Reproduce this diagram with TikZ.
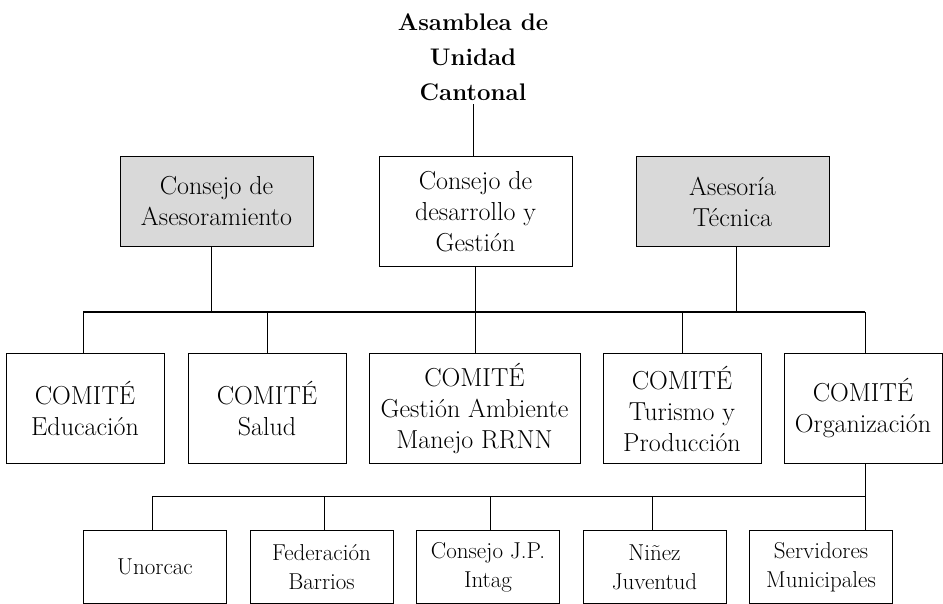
\documentclass[tikz,border=0pt]{standalone}
\usepackage{tikz}
\usetikzlibrary{positioning}
\definecolor{boxgray}{RGB}{217,217,217}

\begin{document}
\begin{tikzpicture}[x=1pt,y=-1pt,line width=1pt,
  box/.style={draw, align=center, inner sep=2pt, anchor=north,
    font=\fontsize{26}{31}\selectfont},
  topbox/.style={box, minimum width=193pt, minimum height=90pt},
  comite/.style={box, minimum width=158pt, minimum height=110pt},
  grupo/.style={box, minimum width=143pt, minimum height=73pt,
    font=\fontsize{23}{29}\selectfont}]
  \useasboundingbox (0,0) rectangle (943,604);

  % cabeza
  \node[align=center, inner sep=0pt, font=\bfseries\fontsize{24}{35}\selectfont]
    (asamblea) at (473,57) {Asamblea de\\Unidad\\Cantonal};

  % consejos
  \node[topbox, fill=boxgray] (asesoramiento) at (216.5,156) {Consejo de\\Asesoramiento};
  \node[topbox, minimum height=110pt] (desarrollo) at (475.5,156) {Consejo de\\desarrollo y\\Gesti\'on};
  \node[topbox, fill=boxgray] (tecnica) at (732.5,156) {Asesor\'ia\\T\'ecnica};

  % comites
  \node[comite] (educacion) at (85,353) {COMIT\'E\\Educaci\'on};
  \node[comite] (salud) at (267,353) {COMIT\'E\\Salud};
  \node[comite, minimum width=211pt] (ambiente) at (474.5,353)
    {COMIT\'E\\Gesti\'on Ambiente\\Manejo RRNN};
  \node[comite] (turismo) at (682,353) {COMIT\'E\\Turismo y\\Producci\'on};
  \node[comite] (organizacion) at (863,353) {COMIT\'E\\Organizaci\'on};

  % organizaciones de base
  \node[grupo] (unorcac) at (155,530) {Unorcac};
  \node[grupo] (federacion) at (321.5,530) {Federaci\'on\\Barrios};
  \node[grupo] (jp) at (488,530) {Consejo J.P.\\Intag};
  \node[grupo] (ninez) at (654.5,530) {Ni\~nez\\Juventud};
  \node[grupo] (servidores) at (821,530) {Servidores\\Municipales};

  \coordinate (busA) at (0,312);
  \coordinate (busB) at (0,496);
  \coordinate (dropE) at (83,0);
  \coordinate (dropO) at (865,0);

  \draw ([yshift=-3pt]asamblea.south) -- (asamblea.south |- desarrollo.north);
  \draw (desarrollo.south) -- (desarrollo.south |- ambiente.north);
  \draw ([xshift=-5pt]asesoramiento.south) -- ([xshift=-5pt]asesoramiento.south |- busA);
  \draw ([xshift=4pt]tecnica.south) -- ([xshift=4pt]tecnica.south |- busA);
  \draw (dropE |- busA) -- (dropO |- busA);
  \draw (dropE |- busA) -- (dropE |- educacion.north);
  \draw (dropO |- busA) -- (dropO |- organizacion.north);
  \foreach \n in {salud,turismo}
    \draw (\n.north) -- (\n.north |- busA);

  \draw (dropO |- organizacion.south) -- (dropO |- servidores.north);
  \draw ([xshift=-3pt]unorcac.north |- busB) -- (dropO |- busB);
  \foreach \n/\dx in {unorcac/-3pt,federacion/3pt,jp/2pt,ninez/-2pt}
    \draw ([xshift=\dx]\n.north) -- ([xshift=\dx]\n.north |- busB);
\end{tikzpicture}
\end{document}
